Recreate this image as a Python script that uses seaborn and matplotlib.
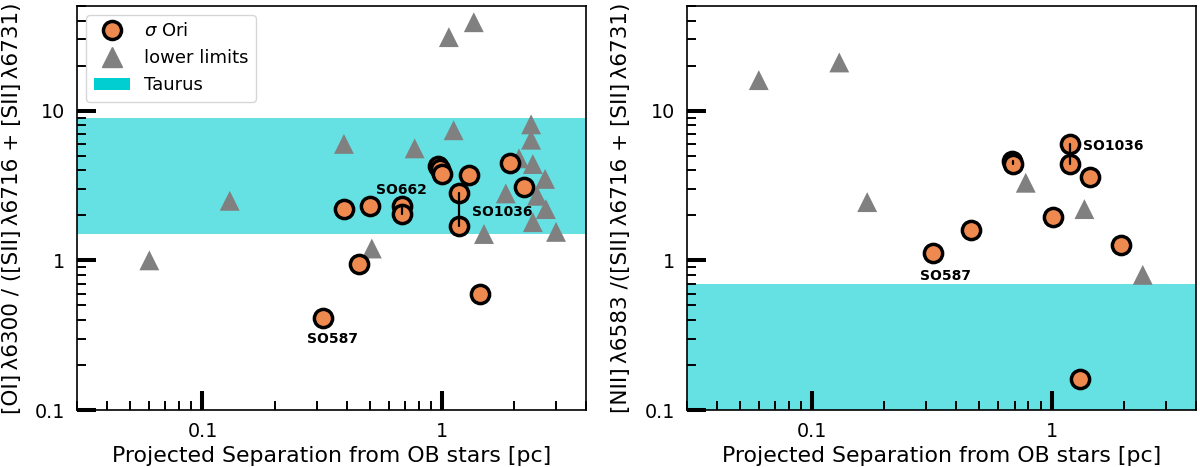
import pandas as pd
import seaborn as sns
import matplotlib.pyplot as plt
from matplotlib.lines import Line2D
from matplotlib.patches import Patch
from matplotlib.ticker import LogLocator, FuncFormatter, NullFormatter

# left panel: [OI] 6300 ratio, sigma Ori detections
oi_sep = [0.32, 0.39, 0.45, 0.50, 0.68, 0.68, 0.96, 0.98, 1.00, 1.18, 1.18, 1.30, 1.45, 1.93, 2.20]
oi_ratio = [0.41, 2.2, 0.95, 2.3, 2.3, 2.05, 4.25, 4.05, 3.75, 2.8, 1.7, 3.7, 0.60, 4.5, 3.1]
# left panel: lower limits
oi_lim_sep = [0.06, 0.13, 0.39, 0.51, 0.77, 1.07, 1.12, 1.36, 1.50, 1.85, 2.10,
              2.36, 2.36, 2.40, 2.50, 2.70, 2.72, 2.40, 3.00]
oi_lim_ratio = [1.0, 2.5, 6.0, 1.2, 5.6, 31, 7.4, 39, 1.5, 2.8, 4.8,
                8.1, 6.4, 4.4, 2.7, 3.5, 2.2, 1.8, 1.55]

# right panel: [NII] 6583 ratio
nii_sep = [0.32, 0.46, 0.685, 0.69, 1.01, 1.19, 1.19, 1.31, 1.45, 1.95]
nii_ratio = [1.12, 1.6, 4.6, 4.4, 1.95, 6.0, 4.4, 0.16, 3.6, 1.26]
nii_lim_sep = [0.06, 0.13, 0.17, 0.78, 1.37, 2.4]
nii_lim_ratio = [16, 21, 2.45, 3.3, 2.2, 0.8]

# Taurus ranges
oi_taurus = (1.5, 9.0)
nii_taurus = (0.05, 0.7)

# repeated measurements of one star, joined by a line (x, y_top, y_bottom)
oi_pairs = [(0.68, 2.3, 2.05), (1.18, 2.8, 1.7)]
nii_pairs = [(0.69, 4.6, 4.4), (1.19, 6.0, 4.4)]

ORANGE = "#ee8a50"
GRAY = "#808080"
TURQ = "darkturquoise"

sns.set_style("ticks", rc={"axes.edgecolor": "black", "text.color": "black",
                           "axes.labelcolor": "black", "xtick.color": "black",
                           "ytick.color": "black"})
plt.rcParams["font.family"] = ["DejaVu Sans"]

fig = plt.figure(figsize=(12, 4.67), dpi=100)
ax1 = fig.add_axes([0.0644, 0.122, 0.4239, 0.865])
ax2 = fig.add_axes([0.5722, 0.122, 0.4244, 0.865])


def draw_panel(ax, sep, ratio, lim_sep, lim_ratio, band, pairs, ylabel):
    ax.set_xscale("log")
    ax.set_yscale("log")
    ax.axhspan(band[0], band[1], color=TURQ, alpha=0.6, lw=0, zorder=0)
    lim = pd.DataFrame({"sep": lim_sep, "ratio": lim_ratio})
    det = pd.DataFrame({"sep": sep, "ratio": ratio})
    sns.scatterplot(data=lim, x="sep", y="ratio", ax=ax, marker="^", s=205,
                    color=GRAY, edgecolor="none", zorder=2)
    sns.scatterplot(data=det, x="sep", y="ratio", ax=ax, marker="o", s=172,
                    color=ORANGE, edgecolor="black", linewidth=2.5, zorder=3)
    for x, y1, y2 in pairs:
        ax.plot([x, x], [y1, y2], color="black", lw=1.6, zorder=4)
    ax.set_xlim(0.03, 4.0)
    ax.set_ylim(0.1, 50)
    ax.xaxis.set_major_locator(LogLocator(base=10, numticks=10))
    ax.yaxis.set_major_locator(LogLocator(base=10, numticks=10))
    ax.xaxis.set_minor_locator(LogLocator(base=10, subs=range(2, 10), numticks=20))
    ax.yaxis.set_minor_locator(LogLocator(base=10, subs=range(2, 10), numticks=20))
    fmt = FuncFormatter(lambda v, p: f"{v:g}")
    ax.xaxis.set_major_formatter(fmt)
    ax.yaxis.set_major_formatter(fmt)
    ax.xaxis.set_minor_formatter(NullFormatter())
    ax.yaxis.set_minor_formatter(NullFormatter())
    ax.tick_params(which="major", direction="in", length=13.4, width=2.9,
                   labelsize=13.8, pad=8.5)
    ax.tick_params(which="minor", direction="in", length=6.5, width=1.4)
    for s in ax.spines.values():
        s.set_linewidth(1.2)
    ax.set_xlabel("Projected Separation from OB stars [pc]", fontsize=15.8)
    ax.set_ylabel(ylabel, fontsize=15.5)
    ax.xaxis.set_label_coords(0.5, -0.09)
    ax.yaxis.set_label_coords(-0.109, 0.5)


draw_panel(ax1, oi_sep, oi_ratio, oi_lim_sep, oi_lim_ratio, oi_taurus, oi_pairs,
           "[OI]\u2009λ6300 / ([SII]\u2009λ6716 + [SII]\u2009λ6731)")
draw_panel(ax2, nii_sep, nii_ratio, nii_lim_sep, nii_lim_ratio, nii_taurus, nii_pairs,
           "[NII]\u2009λ6583 /([SII]\u2009λ6716 + [SII]\u2009λ6731)")

lab = dict(fontsize=10, fontweight="bold", zorder=5)
ax1.text(0.35, 0.30, "SO587", ha="center", va="center", **lab)
ax1.text(0.68, 2.93, "SO662", ha="center", va="center", **lab)
ax1.text(1.34, 2.12, "SO1036", ha="left", va="center", **lab)
ax2.text(0.36, 0.79, "SO587", ha="center", va="center", **lab)
ax2.text(1.35, 5.84, "SO1036", ha="left", va="center", **lab)

handles = [
    Line2D([], [], marker="o", ls="", markersize=13, markerfacecolor=ORANGE,
           markeredgecolor="black", markeredgewidth=2.5),
    Line2D([], [], marker="^", ls="", markersize=14.3, color=GRAY),
    Patch(facecolor=TURQ, edgecolor="none"),
]
ax1.legend(handles, [r"$\sigma$ Ori", "lower limits", "Taurus"], loc="upper left",
           fontsize=13, frameon=True)

fig.savefig("out.png", dpi=100)
